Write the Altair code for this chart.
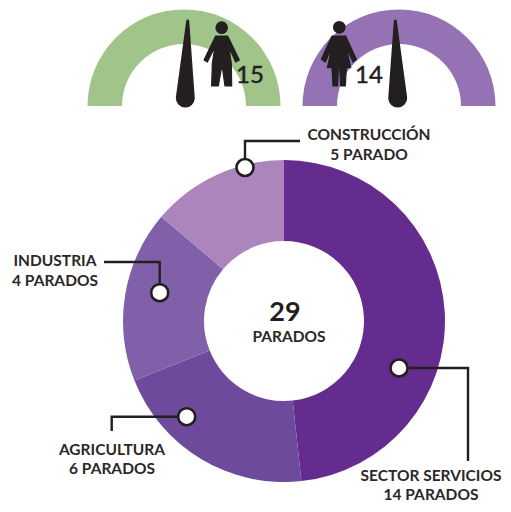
import altair as alt
import pandas as pd

# --- data -----------------------------------------------------------------
sectors = ["SECTOR SERVICIOS", "AGRICULTURA", "INDUSTRIA", "CONSTRUCCIÓN"]
slice_values = [14, 6, 5, 4]
slice_colors = ["#652c8f", "#6d4a9b", "#8060a9", "#ab85bc"]

label_line1 = ["SECTOR SERVICIOS", "AGRICULTURA", "INDUSTRIA", "CONSTRUCCIÓN"]
label_line2 = ["14 PARADOS", "6 PARADOS", "4 PARADOS", "5 PARADO"]
label_x = [431, 112, 55, 369]
label_y1 = [481, 455, 266, 140]
label_y2 = [500, 474, 286, 160]

dot_x = [399, 186.7, 159.7, 245]
dot_y = [368, 416.7, 292.7, 167.5]

leader_x = [[399, 468, 468], [186.7, 111.7, 111.7], [159.7, 159.7, 104], [245, 245, 300]]
leader_y = [[368, 368, 461], [416.7, 416.7, 431], [292.7, 262, 262], [167.5, 141, 141]]

gauge_x = [184, 399]
gauge_colors = ["#a0c48a", "#9472b4"]
gauge_values = ["15", "14"]
gauge_value_x = [250, 369]
gauge_value_y = [83, 83]

needle_x = [[187.7, 185.3], [395.3, 397.7]]
needle_y = [[21, 98], [21, 98]]
needle_w = [3, 19]

man_pts = [(437,108),(473,108),(508,180),(497,186),(476,140),(484,190),(485,258),(465,258),
           (456,195),(445,258),(425,258),(427,190),(435,140),(412,186),(402,180)]
woman_pts = [(127,108),(168,108),(200,178),(190,186),(170,142),(183,203),(170,203),(167,258),
             (153,258),(150,203),(146,203),(144,258),(130,258),(127,203),(113,203),(127,142),(107,186),(95,178)]
man_c, woman_c = (456, 159), (148, 159)


def to_path(pts, c):
    return "M" + " L".join(f"{(x-c[0])/99:.3f},{(y-c[1])/99:.3f}" for x, y in pts) + " Z"


# --- scales ---------------------------------------------------------------
xs = alt.Scale(domain=[8, 503], zero=False, nice=False)
ys = alt.Scale(domain=[504, 8], zero=False, nice=False)
X = lambda f: alt.X(f, type="quantitative", scale=xs, axis=None)
Y = lambda f: alt.Y(f, type="quantitative", scale=ys, axis=None)
INK = "#231f20"
FONT = "Lato"

# --- gauges ---------------------------------------------------------------
gauges = alt.Chart(pd.DataFrame({"c": gauge_x, "col": gauge_colors, "cy": [106, 106]})).mark_arc(
    radius=96.5, radius2=62, theta=4.71239, theta2=7.85398
).encode(
    x=X("c"), y=Y("cy"), color=alt.Color("col:N", scale=None)
)

needle_rows = [
    {"g": g, "i": i, "x": needle_x[g][i], "y": needle_y[g][i], "w": needle_w[i]}
    for g in range(2) for i in range(2)
]
needles = alt.Chart(pd.DataFrame(needle_rows)).mark_trail(color=INK).encode(
    x=X("x"), y=Y("y"), detail="g:N", order="i:Q",
    size=alt.Size("w:Q", scale=None, legend=None),
)

man = alt.Chart(pd.DataFrame({"x": [222], "y": [53]})).mark_point(
    shape=to_path(man_pts, man_c), size=66 * 66, filled=True, fill=INK, stroke=INK,
    strokeWidth=1.2, strokeJoin="round", opacity=1
).encode(x=X("x"), y=Y("y"))
woman = alt.Chart(pd.DataFrame({"x": [339], "y": [53]})).mark_point(
    shape=to_path(woman_pts, woman_c), size=66 * 66, filled=True, fill=INK, stroke=INK,
    strokeWidth=1.2, strokeJoin="round", opacity=1
).encode(x=X("x"), y=Y("y"))
heads = alt.Chart(pd.DataFrame({"x": [221.7, 339.3], "y": [27.7, 27.3]})).mark_point(
    shape="circle", size=160, filled=True, color=INK, opacity=1
).encode(x=X("x"), y=Y("y"))

gauge_text = alt.Chart(pd.DataFrame({"x": gauge_value_x, "y": gauge_value_y, "t": gauge_values})).mark_text(
    font=FONT, fontSize=24, color=INK, stroke=INK, strokeWidth=0.5, align="center", baseline="alphabetic"
).encode(x=X("x"), y=Y("y"), text="t:N")

# --- donut ----------------------------------------------------------------
donut_df = pd.DataFrame({"s": sectors, "v": slice_values, "col": slice_colors, "o": range(4)})
donut = alt.Chart(donut_df).mark_arc(radius=161, radius2=80).encode(
    x=alt.datum(284, scale=xs, type="quantitative", axis=None),
    y=alt.datum(321, scale=ys, type="quantitative", axis=None),
    theta=alt.Theta("v:Q", stack=True),
    order=alt.Order("o:Q"),
    color=alt.Color("col:N", scale=None),
)

# --- leaders and dots -----------------------------------------------------
leader_rows = [
    {"k": k, "i": i, "x": leader_x[k][i], "y": leader_y[k][i]}
    for k in range(4) for i in range(3)
]
leaders = alt.Chart(pd.DataFrame(leader_rows)).mark_line(
    color=INK, strokeWidth=2.4, strokeJoin="miter", interpolate="linear"
).encode(x=X("x"), y=Y("y"), detail="k:N", order="i:Q")

dots = alt.Chart(pd.DataFrame({"x": dot_x, "y": dot_y})).mark_point(
    shape="circle", size=290, filled=True, fill="white", stroke=INK, strokeWidth=2.6, opacity=1
).encode(x=X("x"), y=Y("y"))

# --- labels ---------------------------------------------------------------
lab_df = pd.DataFrame({
    "x": label_x * 2,
    "y": label_y1 + label_y2,
    "t": label_line1 + label_line2,
})
labels = alt.Chart(lab_df).mark_text(
    font=FONT, fontSize=15.5, fontWeight=700, color="#2b2728", align="center", baseline="alphabetic"
).encode(x=X("x"), y=Y("y"), text="t:N")

c1 = alt.Chart(pd.DataFrame({"x": [285], "y": [321], "t": ["29"]})).mark_text(
    font=FONT, fontSize=27, fontWeight=700, color=INK, align="center", baseline="alphabetic"
).encode(x=X("x"), y=Y("y"), text="t:N")
c2 = alt.Chart(pd.DataFrame({"x": [289], "y": [342], "t": ["PARADOS"]})).mark_text(
    font=FONT, fontSize=15.5, fontWeight=700, color="#2b2728", align="center", baseline="alphabetic"
).encode(x=X("x"), y=Y("y"), text="t:N")

chart = alt.layer(
    gauges, needles, man, woman, heads, gauge_text, donut, leaders, dots, labels, c1, c2
).properties(
    width=495, height=496,
    padding=0,
    autosize=alt.AutoSizeParams(type="none"),
).configure_view(stroke=None)

chart.save("out.html", embed_options={"renderer": "svg", "actions": False})
